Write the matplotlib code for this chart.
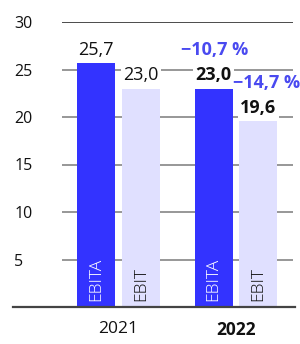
import matplotlib.pyplot as plt
from matplotlib.lines import Line2D

years = ['2021', '2022']
ebita = [25.7, 23.0]
ebit = [23.0, 19.6]
ebita_labels = ['25,7', '23,0']
ebit_labels = ['23,0', '19,6']
changes = ['\u221210,7 %', '\u221214,7 %']
yticks = [5, 10, 15, 20, 25, 30]

plt.rcParams['font.family'] = ['Open Sans', 'DejaVu Sans']

blue = '#3333ff'
light = '#e0e0ff'
accent = '#4a4af0'

fig = plt.figure(figsize=(3.0, 3.44), dpi=100)
ax = fig.add_axes([62 / 300, 1 - 307 / 344, 231 / 300, 285 / 344])

x = list(range(len(years)))
w = 0.323
off = 0.19
xa = [i - off for i in x]
xb = [i + off for i in x]

for y in yticks:
    ax.axhline(y, color='#1a1a1a' if y == 30 else '#7a7a7a', lw=1.1, zorder=0)

ax.bar(xa, ebita, w, color=blue, zorder=2)
ax.bar(xb, ebit, w, color=light, zorder=2)

for i in x:
    bold = 'bold' if i == 1 else 'normal'
    box = dict(facecolor='white', edgecolor='none', pad=1.5)
    ax.annotate(ebita_labels[i], (xa[i], ebita[i]), xytext=(0, 3), textcoords='offset points',
                ha='center', va='bottom', fontsize=13, fontweight=bold, color='#111111', bbox=box, zorder=3)
    ax.annotate(ebit_labels[i], (xb[i], ebit[i]), xytext=(0, 3), textcoords='offset points',
                ha='center', va='bottom', fontsize=13, fontweight=bold, color='#111111', bbox=box, zorder=3)
    ax.text(xa[i], 0.6, 'EBITA', rotation=90, ha='center', va='bottom', fontsize=12.5,
            fontweight='light', color='white', zorder=3)
    ax.text(xb[i], 0.6, 'EBIT', rotation=90, ha='center', va='bottom', fontsize=12.5,
            fontweight='light', color='#111111', zorder=3)

ax.annotate(changes[0], (xa[1], ebita[1]), xytext=(1, 21), textcoords='offset points',
            ha='center', va='bottom', fontsize=13, fontweight='bold', color=accent, zorder=3)
ax.annotate(changes[1], (xb[1], ebit[1]), xytext=(6, 21), textcoords='offset points',
            ha='center', va='bottom', fontsize=13, fontweight='bold', color=accent, zorder=3)

ax.set_xlim(-0.48, 1.485)
ax.set_ylim(0, 30)
ax.set_yticks(yticks)
ax.set_yticklabels([str(v) for v in yticks], ha='left', fontsize=11.5, color='#111111')
ax.tick_params(axis='y', length=0, pad=34.5)
ax.set_xticks(x)
ax.set_xticklabels(years, fontsize=12.5, color='#111111')
ax.get_xticklabels()[1].set_fontweight('bold')
ax.tick_params(axis='x', length=0, pad=10)
for s in ax.spines.values():
    s.set_visible(False)

fig.add_artist(Line2D([13 / 300, 295 / 300], [1 - 307 / 344] * 2, color='#444444', lw=1.6))

fig.savefig('out.png', dpi=100)
